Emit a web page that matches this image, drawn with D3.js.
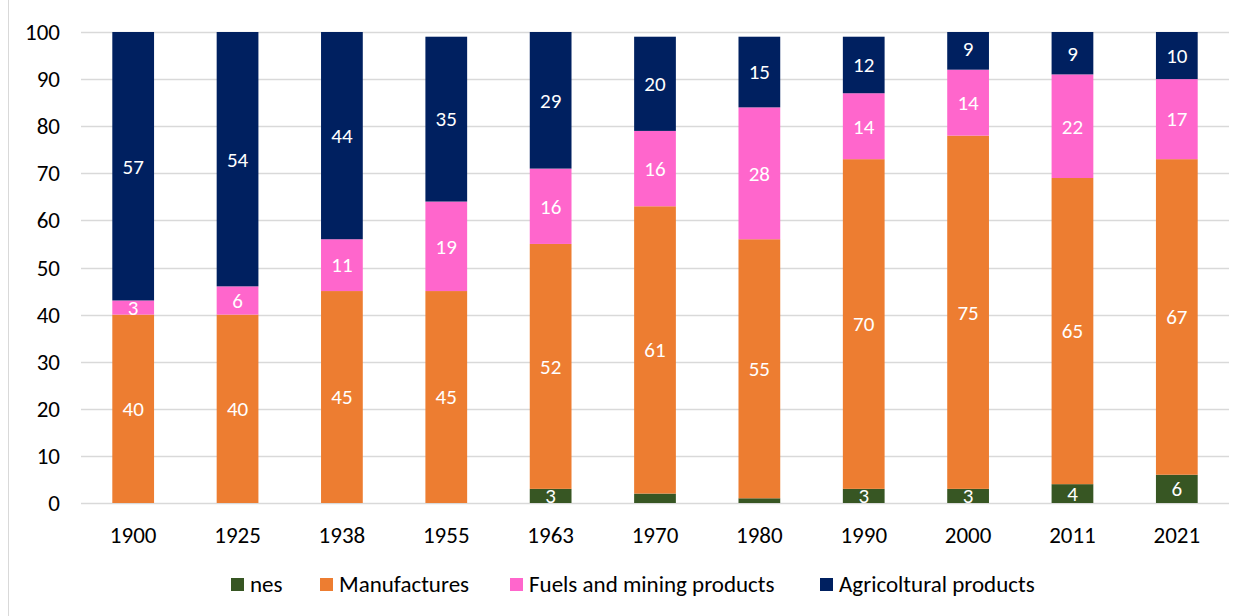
<!DOCTYPE html>
<html>
<head>
<meta charset="utf-8">
<script src="https://cdn.jsdelivr.net/npm/d3@7"></script>
<style>
  body { margin: 0; background: #fff; }
  svg { font-family: Carlito, "Open Sans", "Liberation Sans", sans-serif; }
</style>
</head>
<body>
<div class="chart-container"></div>
<script>
// --- Data ---
const years = ["1900", "1925", "1938", "1955", "1963", "1970", "1980", "1990", "2000", "2011", "2021"];
const nes = [0, 0, 0, 0, 3, 2, 1, 3, 3, 4, 6];
const manufactures = [40, 40, 45, 45, 52, 61, 55, 70, 75, 65, 67];
const fuels = [3, 6, 11, 19, 16, 16, 28, 14, 14, 22, 17];
const agri = [57, 54, 44, 35, 29, 20, 15, 12, 9, 9, 10];
const yTicks = [0, 10, 20, 30, 40, 50, 60, 70, 80, 90, 100];

const seriesNames = ["nes", "Manufactures", "Fuels and mining products", "Agricoltural products"];
const seriesValues = [nes, manufactures, fuels, agri];
const colors = ["#375623", "#ed7d31", "#ff66cc", "#002060"];

// --- Layout ---
const w = 1250, h = 616;
const plotLeft = 81, plotRight = 1229, plotTop = 32, plotBottom = 503;

const table = years.map((y, i) => {
  const row = { year: y };
  seriesNames.forEach((s, j) => row[s] = seriesValues[j][i]);
  return row;
});
const stacked = d3.stack().keys(seriesNames)(table);

const xScale = d3.scaleBand().domain(years).range([plotLeft, plotRight]).paddingInner(0.6).paddingOuter(0.3);
const yScale = d3.scaleLinear().domain([0, 100]).range([plotBottom, plotTop]);

const svg = d3.select(".chart-container").append("svg")
  .attr("width", w).attr("height", h);

// frame line on the left
svg.append("line").attr("x1", 8.5).attr("x2", 8.5).attr("y1", 0).attr("y2", h)
  .attr("stroke", "#d9d9d9");

svg.append("defs").append("clipPath").attr("id", "plot")
  .append("rect").attr("x", plotLeft).attr("y", plotTop)
  .attr("width", plotRight - plotLeft).attr("height", plotBottom - plotTop);

// gridlines
svg.append("g").selectAll("line").data(yTicks).enter().append("line")
  .attr("x1", plotLeft).attr("x2", plotRight)
  .attr("y1", d => Math.round(yScale(d)) + 0.5).attr("y2", d => Math.round(yScale(d)) + 0.5)
  .attr("stroke", "#d9d9d9").attr("stroke-width", 1.5);

// y tick labels
svg.append("g").selectAll("text").data(yTicks).enter().append("text")
  .attr("x", 60).attr("y", d => yScale(d)).attr("dy", "0.35em")
  .attr("text-anchor", "end").attr("font-size", 23).attr("fill", "#000")
  .text(d => d);

// x tick labels
svg.append("g").selectAll("text").data(years).enter().append("text")
  .attr("x", d => xScale(d) + xScale.bandwidth() / 2).attr("y", 543)
  .attr("text-anchor", "middle").attr("font-size", 23).attr("fill", "#000")
  .text(d => d);

// bars
const layers = svg.append("g").attr("clip-path", "url(#plot)")
  .selectAll("g").data(stacked).enter().append("g")
  .attr("fill", (d, i) => colors[i]);

layers.selectAll("rect").data(d => d).enter().append("rect")
  .attr("x", d => xScale(d.data.year))
  .attr("y", d => yScale(d[1]))
  .attr("width", xScale.bandwidth())
  .attr("height", d => yScale(d[0]) - yScale(d[1]));

// data labels
const labels = svg.append("g").selectAll("g").data(stacked).enter().append("g");
labels.selectAll("text").data(d => d.filter(v => v[1] - v[0] >= 3)).enter().append("text")
  .attr("x", d => xScale(d.data.year) + xScale.bandwidth() / 2)
  .attr("y", d => yScale((d[0] + d[1]) / 2))
  .attr("dy", "0.35em")
  .attr("text-anchor", "middle").attr("font-size", 21).attr("fill", "#fff")
  .text(d => d[1] - d[0]);

// legend
const legendX = [231, 320, 510, 820];
const legend = svg.append("g").selectAll("g").data(seriesNames).enter().append("g")
  .attr("transform", (d, i) => "translate(" + legendX[i] + ",578)");
legend.append("rect").attr("width", 13).attr("height", 13).attr("fill", (d, i) => colors[i]);
legend.append("text").attr("x", 19).attr("y", 14)
  .attr("font-size", 23).attr("fill", "#000").text(d => d);
</script>
</body>
</html>
